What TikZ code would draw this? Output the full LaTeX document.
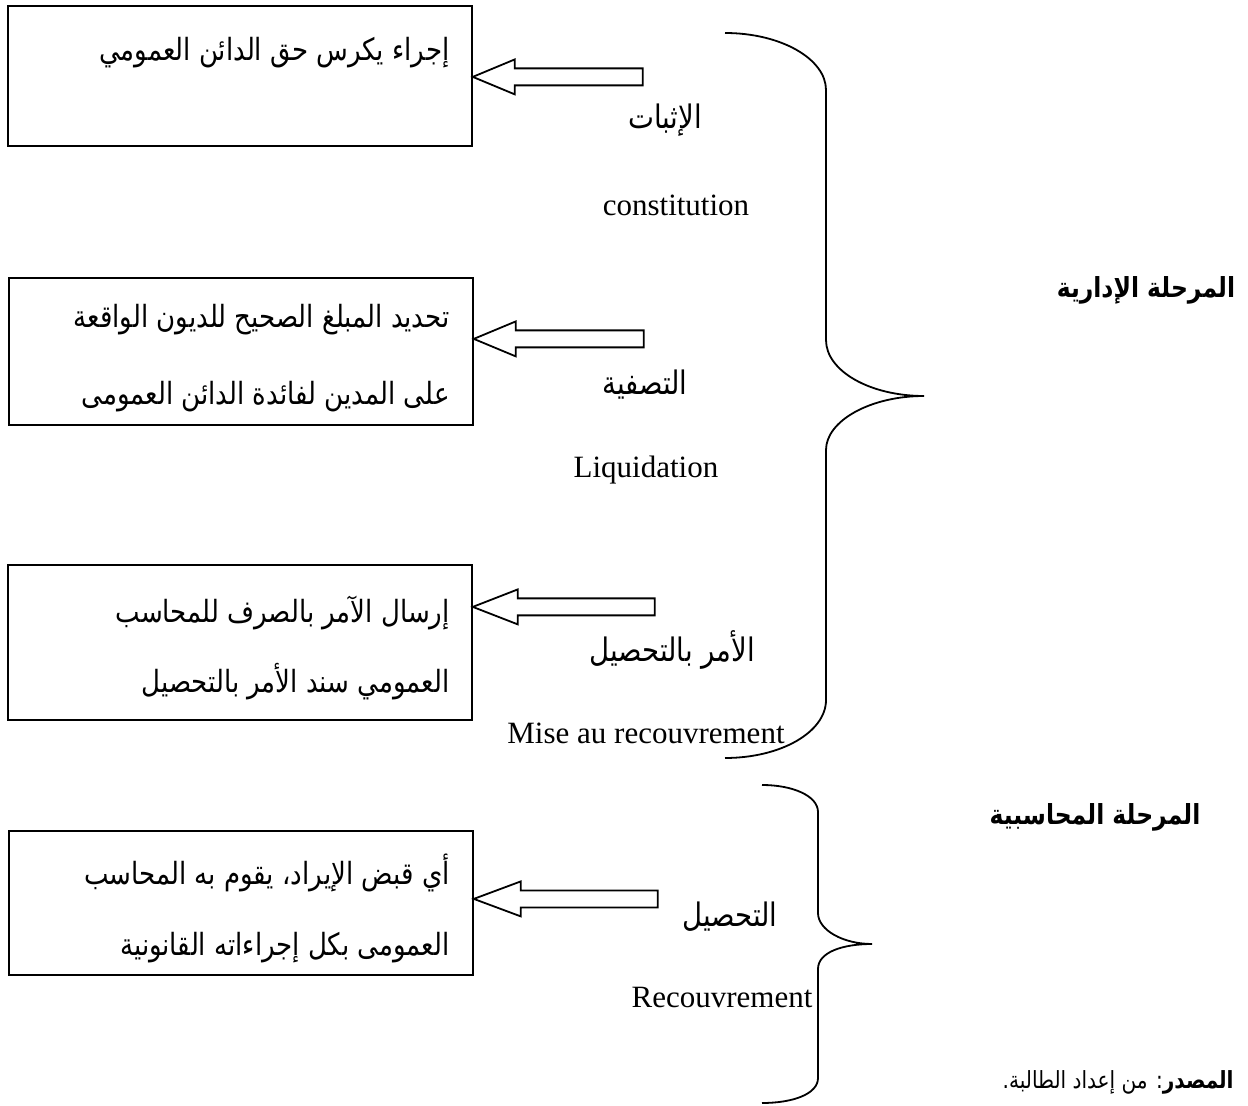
\documentclass[tikz,border=0pt]{standalone}
\usepackage{fontspec}
\setmainfont{Liberation Serif}
\newfontfamily\arabicfont[Script=Arabic,FakeStretch=0.85]{DejaVu Sans}
\TeXXeTstate=1
\usetikzlibrary{calc}
% right-to-left Arabic run
\newcommand\artx[1]{{\arabicfont\beginR #1\endR}}
% hollow block arrow: tip coordinate, head length, shaft length (all in px units)
\newcommand\blockarrow[3]{%
  \draw[hollowarrow] (#1) -- ++(#2,-17.5) -- ++(0,9) -- ++(#3,0) -- ++(0,17) -- ++(-#3,0) -- ++(0,9) -- cycle;}
\begin{document}
\begin{tikzpicture}[x=0.5pt,y=-0.5pt,
  stagebox/.style={draw, line width=0.9pt, inner sep=0pt, anchor=north west, minimum width=232pt},
  artext/.style={font=\arabicfont\fontsize{15.3pt}{18pt}\selectfont, inner sep=0pt},
  steptext/.style={font=\arabicfont\fontsize{16.2pt}{19pt}\selectfont, inner sep=0pt},
  lattext/.style={font=\fontsize{15.5pt}{18pt}\selectfont, inner sep=0pt},
  phase/.style={font=\arabicfont\bfseries\fontsize{13.8pt}{16pt}\selectfont, inner sep=0pt},
  hollowarrow/.style={draw, line width=0.9pt, fill=white, line join=miter},
  bracket/.style={draw, line width=0.9pt}]
\useasboundingbox (0,0) rectangle (1248,1106);

% the four stage boxes
\node[stagebox, minimum height=70pt]   (b1) at (7,5) {};
\node[stagebox, minimum height=73.5pt] (b2) at (8,277) {};
\node[stagebox, minimum height=77.5pt] (b3) at (7,564) {};
\node[stagebox, minimum height=72pt]   (b4) at (8,830) {};

% box contents
\node[artext, anchor=east] (b1l1) at (450,53)  {\artx{إجراء يكرس حق الدائن العمومي}};
\node[artext, anchor=east] (b2l1) at (450,320) {\artx{تحديد المبلغ الصحيح للديون الواقعة}};
\node[artext, anchor=east] (b2l2) at (450,397) {\artx{على المدين لفائدة الدائن العمومى}};
\node[artext, anchor=east] (b3l1) at (450,613) {\artx{إرسال الآمر بالصرف للمحاسب}};
\node[artext, anchor=east] (b3l2) at (450,682) {\artx{العمومي سند الأمر بالتحصيل}};
\node[artext, anchor=east] (b4l1) at (450,873) {\artx{أي قبض الإيراد، يقوم به المحاسب}};
\node[artext, anchor=east] (b4l2) at (450,948) {\artx{العمومى بكل إجراءاته القانونية}};

% arrow tips on the right side of each box
\coordinate (t1) at ($(b1.east)+(0,1)$);
\coordinate (t2) at ($(b2.east)+(0,-12.5)$);
\coordinate (t3) at ($(b3.east)+(0,-35.5)$);
\coordinate (t4) at ($(b4.east)+(0,-4)$);
\blockarrow{t1}{42}{128}
\blockarrow{t2}{42}{128}
\blockarrow{t3}{45}{137}
\blockarrow{t4}{47}{137}

% step labels
\node[steptext] (s1a) at (665,120) {\artx{الإثبات}};
\node[lattext]  (s1b) at (676,205) {constitution};
\node[steptext] (s2a) at (645,385) {\artx{التصفية}};
\node[lattext]  (s2b) at (646,470) {Liquidation};
\node[steptext] (s3a) at (672,650) {\artx{الأمر بالتحصيل}};
\node[lattext]  (s3b) at (646,733) {Mise au recouvrement};
\node[steptext] (s4a) at (730,917) {\artx{التحصيل}};
\node[lattext]  (s4b) at (722,998) {Recouvrement};

% braces grouping the steps into phases
\draw[bracket] (725,33) .. controls (781,33) and (826,59) .. (826,90)
  -- (826,340) .. controls (826,371) and (870,396) .. (924,396)
  .. controls (870,396) and (826,421) .. (826,450)
  -- (826,700) .. controls (826,732) and (781,758) .. (725,758);
\draw[bracket] (762,785) .. controls (793,785) and (818,796) .. (818,812)
  -- (818,913) .. controls (818,930) and (843,944) .. (872,944)
  .. controls (843,944) and (818,952) .. (818,969)
  -- (818,1078) .. controls (818,1094) and (793,1103) .. (762,1103);

% phase names
\node[phase] (p1) at (1146,290) {\artx{المرحلة الإدارية}};
\node[phase] (p2) at (1095,817) {\artx{المرحلة المحاسبية}};

% source line
\node[font=\arabicfont\fontsize{11.8pt}{14pt}\selectfont, inner sep=0pt, anchor=east] (src) at (1234,1082)
  {\artx{{\bfseries المصدر}: من إعداد الطالبة.}};
\end{tikzpicture}
\end{document}
